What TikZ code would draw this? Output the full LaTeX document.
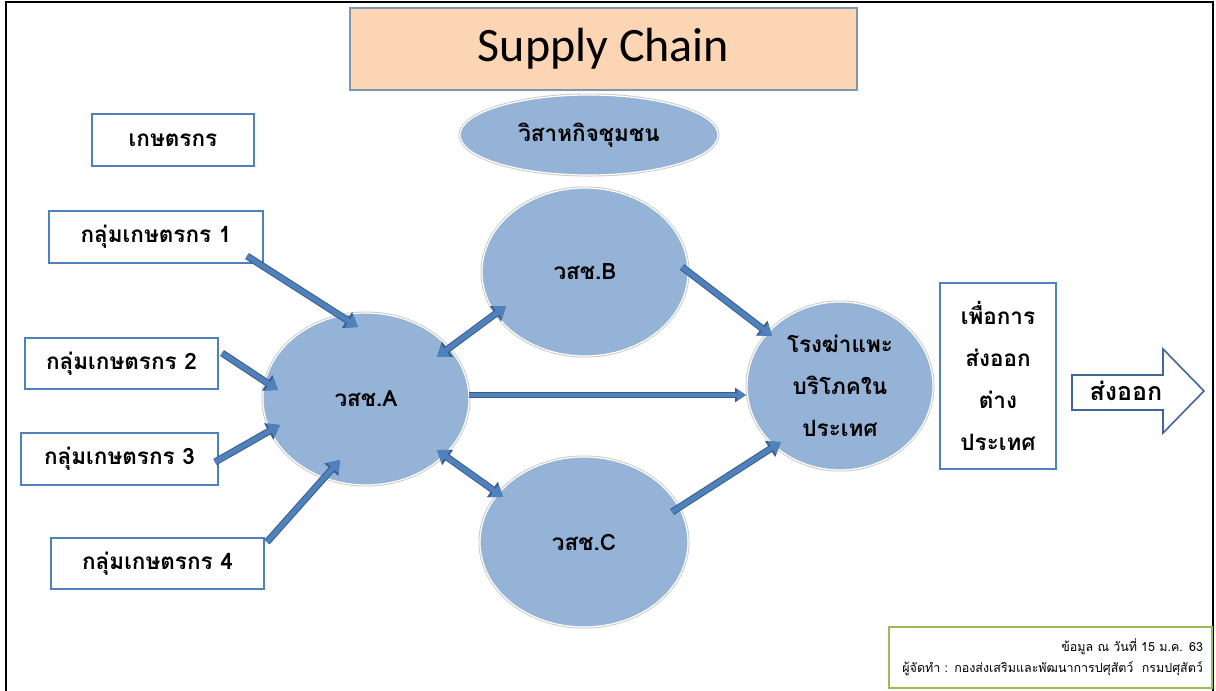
\documentclass[tikz,border=0pt]{standalone}
\usepackage{fontspec}
\setmainfont{Carlito}
\newfontfamily\thai[Script=Thai]{Loma}
\usetikzlibrary{shapes.geometric,arrows.meta}
\definecolor{peach}{HTML}{FCD5B5}
\definecolor{titleborder}{HTML}{7F95B3}
\definecolor{boxborder}{HTML}{4F81BD}
\definecolor{ellfill}{HTML}{95B3D7}
\definecolor{arrfill}{HTML}{4F81BD}
\definecolor{arredge}{HTML}{385D8A}
\definecolor{notegreen}{HTML}{9BBB59}
\definecolor{exportedge}{HTML}{41669A}
\tikzset{
  thaitext/.style={font=\thai\bfseries\fontsize{22.5}{42}\selectfont, text=black},
  box/.style={draw=boxborder, line width=1.2pt, fill=white, inner sep=0pt, thaitext},
  oval/.style={ellipse, fill=ellfill, draw=white, line width=1.2pt,
    preaction={draw=black!22, line width=3pt}, inner sep=0pt, thaitext},
  flow/.style={line width=5pt, draw=arrfill, -{Triangle[width=15pt,length=11pt]},
    preaction={draw=arredge, line width=7pt, -{Triangle[width=18pt,length=13pt]}}},
  flowthin/.style={line width=4pt, draw=arrfill, -{Triangle[width=11pt,length=9pt]},
    preaction={draw=arredge, line width=6pt, -{Triangle[width=14pt,length=11pt]}}},
  twoway/.style={line width=5pt, draw=arrfill, {Triangle[width=15pt,length=11pt]}-{Triangle[width=15pt,length=11pt]},
    preaction={draw=arredge, line width=7pt, {Triangle[width=18pt,length=13pt]}-{Triangle[width=18pt,length=13pt]}}},
  frame/.style={draw=black, line width=2pt},
}
\begin{document}
\begin{tikzpicture}[x=1pt,y=-1pt]
\useasboundingbox (0,0) rectangle (1216,691);
\fill[white] (0,0) rectangle (1216,691);
% outer frame
\coordinate (fbl) at (6,691);
\coordinate (ftl) at (6,2);
\coordinate (ftr) at (1213,2);
\coordinate (fbr) at (1213,691);
\draw[frame] (fbl) -- (ftl) -- (ftr) -- (fbr);

% title
\node[draw=titleborder, line width=1.5pt, fill=peach, minimum width=507pt, minimum height=82pt,
  inner sep=0pt, font=\fontsize{48}{54}\selectfont] (title) at (603.5,49) {Supply Chain};

% boxes
\node[box, minimum width=162pt, minimum height=52pt] (farmer) at (173,140) {เกษตรกร};
\node[box, minimum width=214pt, minimum height=52pt] (g1) at (156,237) {กลุ่มเกษตรกร 1};
\node[box, minimum width=193pt, minimum height=51pt] (g2) at (121.5,363.5) {กลุ่มเกษตรกร 2};
\node[box, minimum width=197pt, minimum height=52pt] (g3) at (119.5,459) {กลุ่มเกษตรกร 3};
\node[box, minimum width=213pt, minimum height=51pt] (g4) at (157.5,563.5) {กลุ่มเกษตรกร 4};

% ellipses
\node[oval, minimum width=258pt, minimum height=80pt] (se) at (589,135) {วิสาหกิจชุมชน};
\node[oval, minimum width=206pt, minimum height=172pt] (a) at (366,399) {วสช.A};
\node[oval, minimum width=206pt, minimum height=168pt] (b) at (585,272) {วสช.B};
\node[oval, minimum width=208pt, minimum height=170pt] (c) at (584,542) {วสช.C};
\node[oval, minimum width=186pt, minimum height=168pt, align=center] (d) at (840,386)
  {โรงฆ่าแพะ\\บริโภคใน\\ประเทศ};

% export box
\node[box, minimum width=116pt, minimum height=186pt, align=center] (e) at (998,376)
  {เพื่อการ\\ส่งออก\\ต่าง\\ประเทศ};

% export block arrow
\coordinate (x1) at (1072,375);
\coordinate (x2) at (1163,375);
\coordinate (x3) at (1163,349);
\coordinate (x4) at (1204,391);
\coordinate (x5) at (1163,433);
\coordinate (x6) at (1163,410);
\coordinate (x7) at (1072,410);
\draw[draw=exportedge, line width=1.6pt, fill=white, line join=miter]
  (x1) -- (x2) -- (x3) -- (x4) -- (x5) -- (x6) -- (x7) -- cycle;
\node[thaitext, font=\thai\bfseries\fontsize{25}{30}\selectfont, inner sep=0pt] (exp) at (1126,391) {ส่งออก};

% connector end points
\coordinate (s1) at (247,256);  \coordinate (t1) at (358,327);
\coordinate (s2) at (222,353);  \coordinate (t2) at (278,390);
\coordinate (s3) at (215,462);  \coordinate (t3) at (280,425);
\coordinate (s4) at (267,542);  \coordinate (t4) at (340,460);
\coordinate (ab1) at (437,357); \coordinate (ab2) at (506,306);
\coordinate (ad1) at (469,395); \coordinate (ad2) at (746,395);
\coordinate (ac1) at (437,450); \coordinate (ac2) at (503,497);
\coordinate (bd1) at (682,267); \coordinate (bd2) at (772,336);
\coordinate (cd1) at (672,512); \coordinate (cd2) at (781,442);

\draw[flow] (s1) -- (t1);
\draw[flow] (s2) -- (t2);
\draw[flow] (s3) -- (t3);
\draw[flow] (s4) -- (t4);
\draw[twoway] (ab1) -- (ab2);
\draw[flowthin] (ad1) -- (ad2);
\draw[twoway] (ac1) -- (ac2);
\draw[flow] (bd1) -- (bd2);
\draw[flow] (cd1) -- (cd2);

% note
\node[draw=notegreen, line width=2pt, fill=white, minimum width=323pt, minimum height=61pt,
  text width=305pt, align=right, inner xsep=9pt,
  font=\thai\fontsize{12.5}{21}\selectfont] (note) at (1050.5,657.5)
  {ข้อมูล ณ วันที่ 15 ม.ค. 63\\ผู้จัดทำ : กองส่งเสริมและพัฒนาการปศุสัตว์~~กรมปศุสัตว์};
\end{tikzpicture}
\end{document}
